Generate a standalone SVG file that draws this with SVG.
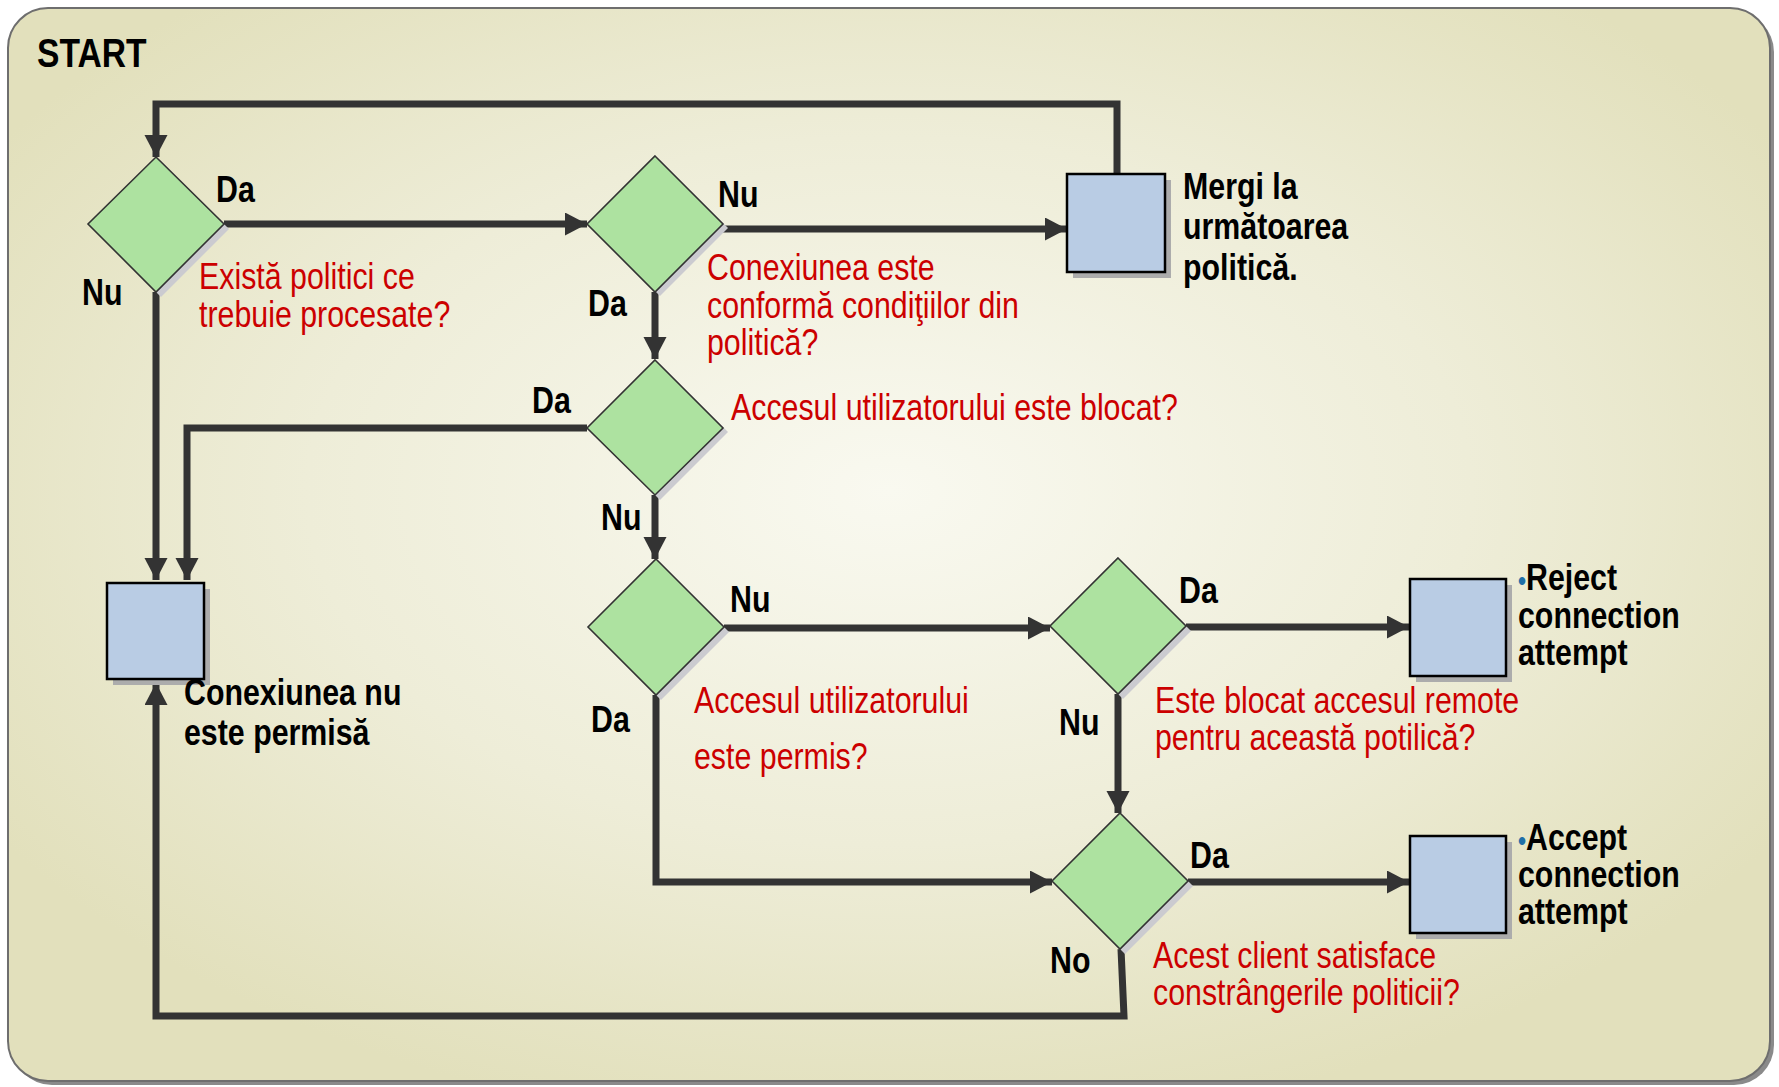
<svg xmlns="http://www.w3.org/2000/svg" width="1779" height="1087" viewBox="0 0 1779 1087">
<style>
.lbl{font-family:"Liberation Sans",Arial,sans-serif;font-weight:bold;font-size:37px;fill:#000}
.q{font-family:"Liberation Sans",Arial,sans-serif;font-size:37px;fill:#cc0000}
.dia{fill:#ade2a0;stroke:#333;stroke-width:1.6}
.dsh{fill:#cbcbd0}
.box{fill:#b9cce4;stroke:#000;stroke-width:2.5}
.bsh{fill:#acacac}
.con{fill:none;stroke:#333;stroke-width:7;stroke-linejoin:miter}
.bul{fill:#1f6fa8;font-size:28px}
</style>
<defs>
<radialGradient id="bg" cx="0.5" cy="0.45" r="0.6">
<stop offset="0" stop-color="#f9f9f0"/>
<stop offset="0.55" stop-color="#eeedd8"/>
<stop offset="1" stop-color="#e2e0bc"/>
</radialGradient>
<marker id="ah" markerUnits="userSpaceOnUse" markerWidth="24" markerHeight="24" refX="22" refY="11.5" orient="auto">
<path d="M0,0 L22,11.5 L0,23 z" fill="#333"/>
</marker>
</defs>
<g id="frame">
<rect x="12" y="12" width="1762" height="1073" rx="40" fill="#8a8a8a"/>
<rect x="8" y="8" width="1762" height="1073" rx="40" fill="url(#bg)" stroke="#6e6e6e" stroke-width="2"/>
</g>
<text class="lbl" transform="translate(37 67) scale(0.82 1)" style="font-size:41px">START</text>
<g id="connectors">
<path class="con" d="M1117,174 V104 H156 V157" marker-end="url(#ah)"/>
<path class="con" d="M224,224 H587" marker-end="url(#ah)"/>
<path class="con" d="M723,229 H1067" marker-end="url(#ah)"/>
<path class="con" d="M655,292 V359" marker-end="url(#ah)"/>
<path class="con" d="M587,428 H187 V580" marker-end="url(#ah)"/>
<path class="con" d="M156,292 V580" marker-end="url(#ah)"/>
<path class="con" d="M655,495 V559" marker-end="url(#ah)"/>
<path class="con" d="M724,628 H1050" marker-end="url(#ah)"/>
<path class="con" d="M656,695 V882 H1052" marker-end="url(#ah)"/>
<path class="con" d="M1186,627 H1409" marker-end="url(#ah)"/>
<path class="con" d="M1118,694 V813" marker-end="url(#ah)"/>
<path class="con" d="M1188,882 H1409" marker-end="url(#ah)"/>
<path class="con" d="M1121,949 L1124,1016 H156 V683" marker-end="url(#ah)"/>
</g>
<g id="d1">
<polygon class="dsh" points="161,161 229,229 161,297 93,229"/>
<polygon class="dia" points="156,157 224,224 156,292 88,224"/>
<text class="lbl" transform="translate(216 202) scale(0.82 1)">Da</text>
<text class="lbl" transform="translate(82 305) scale(0.82 1)">Nu</text>
<text class="q" transform="translate(199 289) scale(0.82 1)">Există politici ce</text>
<text class="q" transform="translate(199 327) scale(0.82 1)">trebuie procesate?</text>
</g>
<g id="d2">
<polygon class="dsh" points="660,160 728,228 660,296 592,228"/>
<polygon class="dia" points="655,156 723,224 655,292 587,224"/>
<text class="lbl" transform="translate(718 207) scale(0.82 1)">Nu</text>
<text class="lbl" transform="translate(588 316) scale(0.82 1)">Da</text>
<text class="q" transform="translate(707 280) scale(0.82 1)">Conexiunea este</text>
<text class="q" transform="translate(707 318) scale(0.82 1)">conformă condiţiilor din</text>
<text class="q" transform="translate(707 355) scale(0.82 1)">politică?</text>
</g>
<g id="mergi">
<rect class="bsh" x="1073" y="180" width="98" height="98"/>
<rect class="box" x="1067" y="174" width="98" height="98"/>
<text class="lbl" transform="translate(1183 199) scale(0.82 1)">Mergi la</text>
<text class="lbl" transform="translate(1183 239) scale(0.82 1)">următoarea</text>
<text class="lbl" transform="translate(1183 280) scale(0.82 1)">politică.</text>
</g>
<g id="d3">
<polygon class="dsh" points="660,364 728,432 660,500 592,432"/>
<polygon class="dia" points="655,360 723,428 655,495 587,428"/>
<text class="lbl" transform="translate(532 413) scale(0.82 1)">Da</text>
<text class="lbl" transform="translate(601 530) scale(0.82 1)">Nu</text>
<text class="q" transform="translate(731 420) scale(0.82 1)">Accesul utilizatorului este blocat?</text>
</g>
<g id="notallowed">
<rect class="bsh" x="113" y="589" width="97" height="96"/>
<rect class="box" x="107" y="583" width="97" height="96"/>
<text class="lbl" transform="translate(184 705) scale(0.82 1)">Conexiunea nu</text>
<text class="lbl" transform="translate(184 745) scale(0.82 1)">este permisă</text>
</g>
<g id="d4">
<polygon class="dsh" points="661,564 729,632 661,700 593,632"/>
<polygon class="dia" points="656,559 724,627 656,695 588,627"/>
<text class="lbl" transform="translate(730 612) scale(0.82 1)">Nu</text>
<text class="lbl" transform="translate(591 732) scale(0.82 1)">Da</text>
<text class="q" transform="translate(694 713) scale(0.82 1)">Accesul utilizatorului</text>
<text class="q" transform="translate(694 769) scale(0.82 1)">este permis?</text>
</g>
<g id="d5">
<polygon class="dsh" points="1123,563 1191,631 1123,699 1055,631"/>
<polygon class="dia" points="1118,558 1186,626 1118,694 1050,626"/>
<text class="lbl" transform="translate(1179 603) scale(0.82 1)">Da</text>
<text class="lbl" transform="translate(1059 735) scale(0.82 1)">Nu</text>
<text class="q" transform="translate(1155 713) scale(0.82 1)">Este blocat accesul remote</text>
<text class="q" transform="translate(1155 750) scale(0.82 1)">pentru această potilică?</text>
</g>
<g id="reject">
<rect class="bsh" x="1416" y="585" width="96" height="97"/>
<rect class="box" x="1410" y="579" width="96" height="97"/>
<text class="lbl" transform="translate(1518 590) scale(0.82 1)"><tspan class="bul">•</tspan>Reject</text>
<text class="lbl" transform="translate(1518 628) scale(0.82 1)">connection</text>
<text class="lbl" transform="translate(1518 665) scale(0.82 1)">attempt</text>
</g>
<g id="d6">
<polygon class="dsh" points="1125,818 1193,886 1125,954 1057,886"/>
<polygon class="dia" points="1120,813 1188,881 1120,949 1052,881"/>
<text class="lbl" transform="translate(1190 868) scale(0.82 1)">Da</text>
<text class="lbl" transform="translate(1050 973) scale(0.82 1)">No</text>
<text class="q" transform="translate(1153 968) scale(0.82 1)">Acest client satisface</text>
<text class="q" transform="translate(1153 1005) scale(0.82 1)">constrângerile politicii?</text>
</g>
<g id="accept">
<rect class="bsh" x="1416" y="842" width="96" height="97"/>
<rect class="box" x="1410" y="836" width="96" height="97"/>
<text class="lbl" transform="translate(1518 850) scale(0.82 1)"><tspan class="bul">•</tspan>Accept</text>
<text class="lbl" transform="translate(1518 887) scale(0.82 1)">connection</text>
<text class="lbl" transform="translate(1518 924) scale(0.82 1)">attempt</text>
</g>
</svg>
